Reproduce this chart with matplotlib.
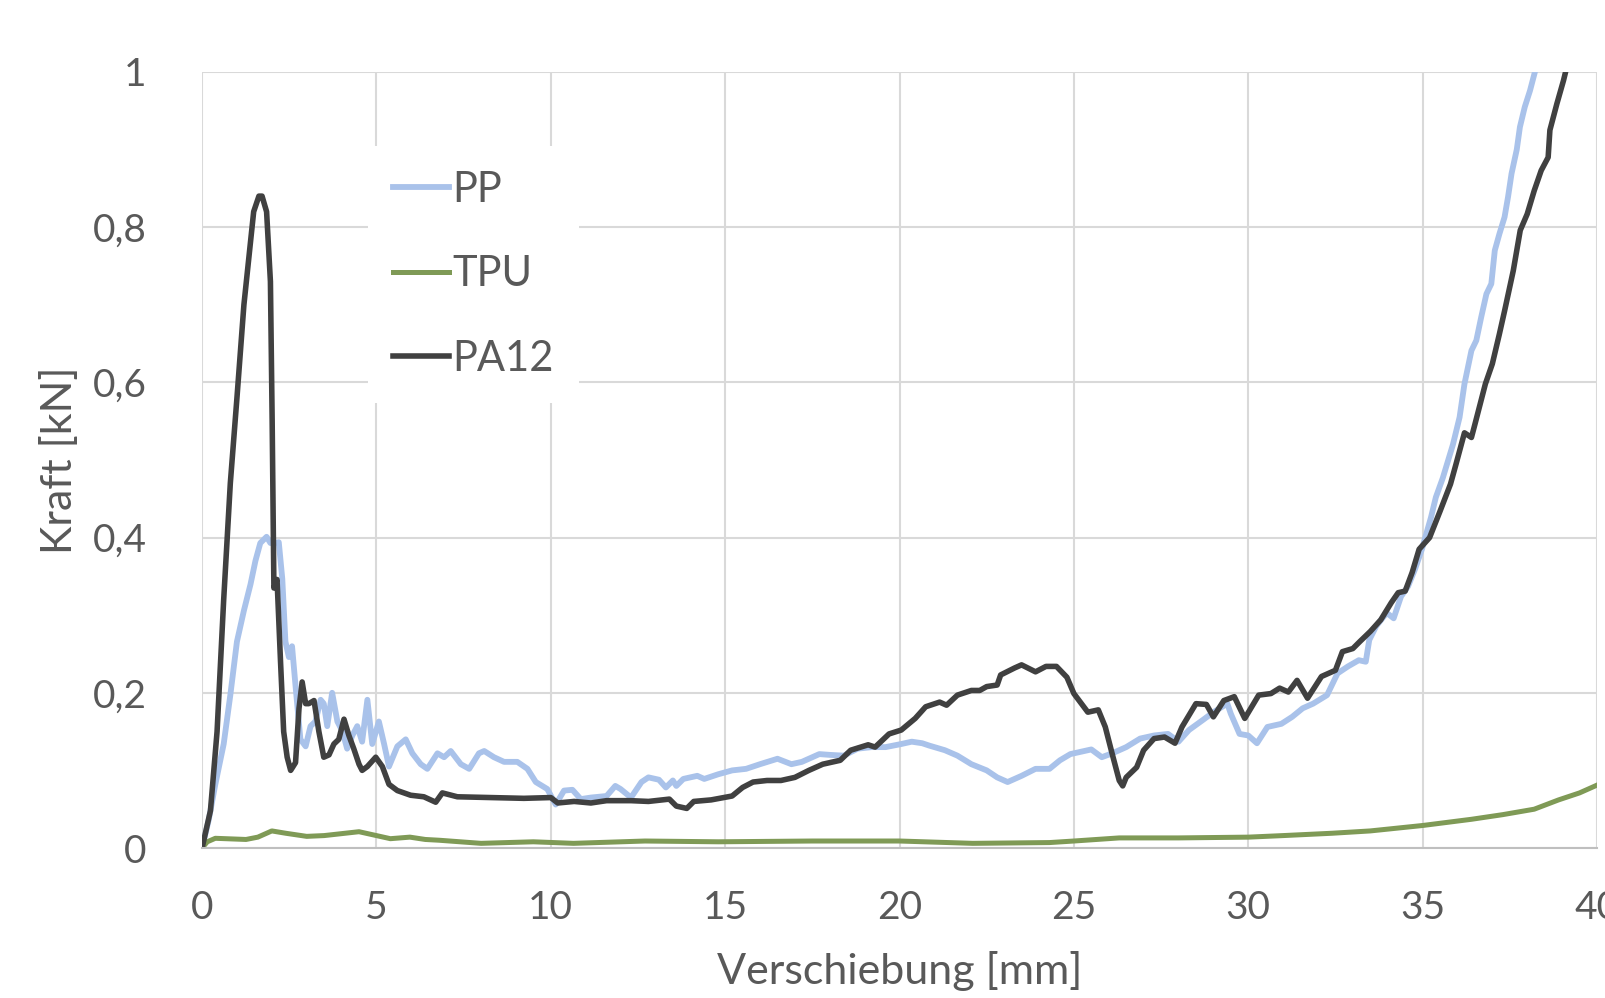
import numpy as np
import matplotlib as mpl
mpl.use('agg')
import matplotlib.pyplot as plt

plt.rcParams['font.family'] = ['Lato', 'DejaVu Sans']

# Kraft-Weg-Kurven
pp_x = [0, 0.19, 0.38, 0.62, 0.81, 1.0, 1.2, 1.39, 1.53, 1.67, 1.85, 1.96, 2.06, 2.2, 2.3,
        2.39, 2.49, 2.58, 2.68, 2.82, 2.97, 3.11, 3.25, 3.4, 3.49, 3.59, 3.73, 3.88, 4.02,
        4.16, 4.31, 4.45, 4.59, 4.74, 4.88, 5.07, 5.22, 5.36, 5.6, 5.84, 6.03, 6.27, 6.46,
        6.75, 6.94, 7.13, 7.42, 7.66, 7.94, 8.09, 8.37, 8.66, 9.04, 9.33, 9.57, 9.9, 10.14,
        10.38, 10.62, 10.86, 11.15, 11.6, 11.85, 12.0, 12.3, 12.6, 12.8, 13.1, 13.3, 13.5,
        13.6, 13.8, 14.2, 14.4, 14.8, 15.2, 15.6, 16.0, 16.5, 16.9, 17.2, 17.7, 18.0, 18.4,
        18.8, 19.2, 19.6, 20.05, 20.35, 20.65, 20.85, 21.3, 21.66, 22.06, 22.5, 22.8, 23.1,
        23.5, 23.9, 24.3, 24.6, 24.9, 25.2, 25.5, 25.8, 26.1, 26.5, 26.9, 27.3, 27.7, 28.0,
        28.3, 28.7, 29.0, 29.4, 29.5, 29.75, 30.0, 30.25, 30.55, 30.95, 31.26, 31.56, 31.86,
        32.26, 32.56, 32.86, 33.17, 33.37, 33.47, 33.67, 33.97, 34.17, 34.38, 34.58, 34.78,
        34.98, 35.24, 35.38, 35.58, 35.87, 36.06, 36.2, 36.4, 36.54, 36.68, 36.83, 36.97,
        37.07, 37.2, 37.35, 37.45, 37.55, 37.7, 37.79, 37.93, 38.08, 38.22, 38.4]
pp_y = [0, 0.036, 0.082, 0.134, 0.197, 0.266, 0.306, 0.34, 0.37, 0.393, 0.401, 0.393, 0.393,
        0.394, 0.347, 0.266, 0.246, 0.26, 0.209, 0.14, 0.131, 0.157, 0.163, 0.191, 0.186,
        0.157, 0.2, 0.163, 0.151, 0.128, 0.145, 0.157, 0.137, 0.191, 0.134, 0.163, 0.134,
        0.105, 0.131, 0.14, 0.122, 0.108, 0.102, 0.122, 0.117, 0.125, 0.108, 0.102, 0.122,
        0.125, 0.117, 0.111, 0.111, 0.102, 0.085, 0.076, 0.056, 0.074, 0.075, 0.063, 0.065,
        0.067, 0.08, 0.076, 0.065, 0.085, 0.091, 0.088, 0.078, 0.087, 0.08, 0.089, 0.093,
        0.089, 0.095, 0.1, 0.102, 0.108, 0.115, 0.108, 0.111, 0.121, 0.12, 0.119, 0.128,
        0.13, 0.13, 0.134, 0.137, 0.135, 0.132, 0.126, 0.119, 0.108, 0.1, 0.091, 0.085,
        0.093, 0.102, 0.102, 0.113, 0.121, 0.124, 0.127, 0.117, 0.122, 0.13, 0.141, 0.145,
        0.147, 0.137, 0.152, 0.165, 0.175, 0.186, 0.173, 0.147, 0.145, 0.135, 0.156, 0.16,
        0.169, 0.18, 0.186, 0.197, 0.225, 0.234, 0.242, 0.24, 0.268, 0.286, 0.303, 0.296,
        0.324, 0.337, 0.359, 0.385, 0.426, 0.452, 0.477, 0.52, 0.555, 0.598, 0.641, 0.654,
        0.684, 0.714, 0.727, 0.77, 0.791, 0.813, 0.839, 0.869, 0.9, 0.929, 0.955, 0.976,
        1.0, 1.06]

tpu_x = [0, 0.15, 0.38, 1.26, 1.6, 2.0, 2.4, 3.0, 3.5, 4.5, 5.0, 5.4, 5.96, 6.4, 6.8, 7.4,
         8.0, 9.5, 10.65, 12.7, 14.8, 17.5, 20.0, 22.1, 24.3, 25.0, 26.3, 28.0, 30.0, 31.0,
         32.4, 33.5, 35.0, 36.4, 37.3, 38.2, 38.9, 39.5, 40.1]
tpu_y = [0, 0.008, 0.0125, 0.011, 0.014, 0.022, 0.019, 0.015, 0.016, 0.021, 0.016, 0.012,
         0.014, 0.011, 0.010, 0.008, 0.006, 0.008, 0.006, 0.009, 0.008, 0.009, 0.009, 0.006,
         0.007, 0.009, 0.013, 0.013, 0.014, 0.016, 0.019, 0.022, 0.029, 0.037, 0.043, 0.05,
         0.062, 0.071, 0.083]

pa12_x = [0, 0.24, 0.43, 0.62, 0.81, 1.0, 1.2, 1.34, 1.48, 1.63, 1.72, 1.85, 1.96, 2.01, 2.06,
          2.15, 2.25, 2.34, 2.44, 2.54, 2.68, 2.78, 2.87, 2.97, 3.06, 3.21, 3.35, 3.49, 3.64,
          3.78, 3.92, 4.07, 4.21, 4.35, 4.5, 4.59, 4.74, 4.98, 5.17, 5.36, 5.6, 5.98, 6.36,
          6.7, 6.89, 7.32, 8.28, 9.23, 10.0, 10.2, 10.67, 11.15, 11.6, 12.3, 12.8, 13.4, 13.6,
          13.9, 14.1, 14.6, 15.2, 15.5, 15.8, 16.2, 16.6, 17.0, 17.4, 17.8, 18.3, 18.6, 19.1,
          19.3, 19.7, 20.05, 20.45, 20.75, 21.15, 21.35, 21.66, 22.06, 22.3, 22.5, 22.8, 22.9,
          23.3, 23.5, 23.9, 24.2, 24.5, 24.8, 25.0, 25.4, 25.7, 25.9, 26.1, 26.3, 26.4, 26.5,
          26.8, 27.0, 27.3, 27.6, 27.9, 28.1, 28.5, 28.8, 29.0, 29.3, 29.6, 29.9, 30.3, 30.65,
          30.9, 31.15, 31.4, 31.7, 32.1, 32.5, 32.7, 33.0, 33.2, 33.5, 33.8, 34.1, 34.3, 34.5,
          34.7, 34.9, 35.2, 35.5, 35.8, 35.96, 36.2, 36.4, 36.5, 36.8, 37.0, 37.2, 37.35, 37.6,
          37.8, 38.0, 38.2, 38.4, 38.6, 38.65, 38.85, 39.04, 39.1, 39.3]
pa12_y = [0, 0.048, 0.15, 0.32, 0.47, 0.58, 0.7, 0.76, 0.82, 0.84, 0.84, 0.82, 0.73, 0.55,
          0.335, 0.346, 0.24, 0.15, 0.117, 0.1, 0.11, 0.18, 0.214, 0.186, 0.186, 0.19, 0.15,
          0.117, 0.12, 0.134, 0.14, 0.166, 0.145, 0.128, 0.108, 0.1, 0.105, 0.117, 0.105,
          0.082, 0.074, 0.068, 0.066, 0.059, 0.071, 0.066, 0.065, 0.064, 0.065, 0.058, 0.06,
          0.058, 0.061, 0.061, 0.06, 0.063, 0.054, 0.051, 0.06, 0.062, 0.067, 0.078, 0.085,
          0.087, 0.087, 0.091, 0.1, 0.108, 0.113, 0.126, 0.133, 0.13, 0.147, 0.152, 0.167,
          0.182, 0.188, 0.184, 0.197, 0.203, 0.203, 0.208, 0.21, 0.223, 0.232, 0.236, 0.227,
          0.234, 0.234, 0.22, 0.199, 0.175, 0.178, 0.156, 0.121, 0.087, 0.08, 0.091, 0.104,
          0.126, 0.141, 0.143, 0.135, 0.156, 0.186, 0.185, 0.169, 0.19, 0.195, 0.167, 0.197,
          0.199, 0.206, 0.201, 0.216, 0.193, 0.221, 0.229, 0.253, 0.257, 0.266, 0.279, 0.294,
          0.316, 0.329, 0.331, 0.355, 0.385, 0.4, 0.434, 0.469, 0.495, 0.535, 0.529, 0.546,
          0.598, 0.624, 0.662, 0.692, 0.744, 0.796, 0.817, 0.847, 0.873, 0.89, 0.925, 0.959,
          0.989, 1.0, 1.06]

x_ticks = np.arange(0, 41, 5)
y_ticks = [0, 0.2, 0.4, 0.6, 0.8, 1.0]
y_labels = ['0', '0,2', '0,4', '0,6', '0,8', '1']

txt = '#595959'

fig = plt.figure(figsize=(16.05, 9.98), dpi=100)
ax = fig.add_axes([0.1259, 0.1503, 0.8691, 0.7776])

ax.plot(pp_x, pp_y, color='#A9C2EA', lw=4.2, label='PP', solid_joinstyle='round')
ax.plot(tpu_x, tpu_y, color='#7F9A56', lw=3.6, label='TPU', solid_joinstyle='round')
ax.plot(pa12_x, pa12_y, color='#404040', lw=4.0, label='PA12', solid_joinstyle='round')

ax.set_xlim(0, 40)
ax.set_ylim(0, 1)
ax.set_xticks(x_ticks)
ax.set_yticks(y_ticks)
ax.set_yticklabels(y_labels)
ax.grid(True, color='#D9D9D9', lw=1.5)
ax.set_axisbelow(True)
for s in ['left', 'right', 'top']:
    ax.spines[s].set_visible(False)
ax.spines['bottom'].set_color('#BFBFBF')
ax.spines['bottom'].set_linewidth(1.5)
ax.tick_params(length=0, labelsize=28, labelcolor=txt)
ax.tick_params(axis='x', pad=30)
ax.tick_params(axis='y', pad=40)

ax.set_xlabel('Verschiebung [mm]', fontsize=31, color=txt, labelpad=18)
ax.set_ylabel('Kraft [kN]', fontsize=31, color=txt, labelpad=10)

leg = ax.legend(loc='upper left', bbox_to_anchor=(0.119, 0.905), borderaxespad=0,
                fontsize=30, frameon=True, fancybox=False, handlelength=1.35,
                handletextpad=0.08, labelspacing=1.12, borderpad=0.6)
leg.get_frame().set_edgecolor('none')
leg.get_frame().set_facecolor('white')
leg.get_frame().set_alpha(1)
for t in leg.get_texts():
    t.set_color(txt)

plt.savefig('out.png')
